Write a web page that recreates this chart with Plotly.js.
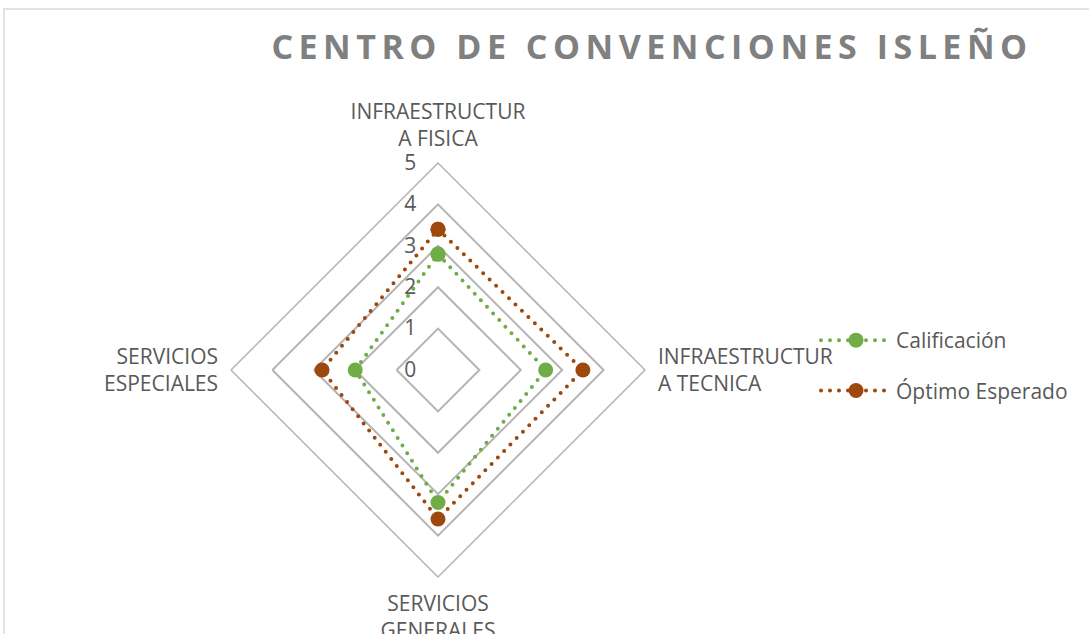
<!DOCTYPE html>
<html>
<head>
<meta charset="utf-8">
<script src="https://cdn.plot.ly/plotly-3.0.1.min.js"></script>
<style>
  html, body { margin: 0; padding: 0; background: #fff; }
  #chart { width: 1089px; height: 634px; }
  .gtitle { letter-spacing: 5.5px; }
  .js-line { stroke-linecap: round; }
</style>
</head>
<body>
<div id="chart"></div>
<script>
// Categorías (ejes del radar), en sentido horario desde arriba
const categorias = [
    'INFRAESTRUCTUR<br>A FISICA',
    'INFRAESTRUCTUR<br>A TECNICA',
    'SERVICIOS<br>GENERALES',
    'SERVICIOS<br>ESPECIALES'
];

// Valores
const calificacion = [2.8, 2.6, 3.2, 2.0];
const optimoEsperado = [3.4, 3.5, 3.6, 2.8];

const radialTicks = [0, 1, 2, 3, 4, 5];

const gris = '#595959';
const rejilla = '#b4b4b4';
const fuente = "'Open Sans', 'Liberation Sans', sans-serif";

// cerrar el polígono repitiendo el primer punto
function cerrar(arr) {
    return arr.concat([arr[0]]);
}

const trazaCalif = {
    type: 'scatterpolar',
    name: 'Calificación',
    legendgroup: 'a',
    r: cerrar(calificacion),
    theta: cerrar(categorias),
    mode: 'lines+markers',
    line: { color: '#70ad47', width: 4, dash: '0px,9px' },
    marker: { color: '#70ad47', size: 15 },
    hoverinfo: 'r+name'
};

const trazaOptimo = {
    type: 'scatterpolar',
    name: 'Óptimo Esperado',
    legendgroup: 'b',
    r: cerrar(optimoEsperado),
    theta: cerrar(categorias),
    mode: 'lines+markers',
    line: { color: '#9e480e', width: 4, dash: '0px,9px' },
    marker: { color: '#9e480e', size: 15 },
    hoverinfo: 'r+name'
};

// centro del radar ~ (438, 370) px, radio ~ 207 px
const W = 1089, H = 634;
const cx = 438, cy = 370, rad = 207;

const layout = {
    width: W,
    height: H,
    margin: { l: 0, r: 0, t: 0, b: 0, autoexpand: false },
    paper_bgcolor: '#ffffff',
    font: { family: fuente, color: gris, size: 21 },
    title: {
        text: '<b>CENTRO DE CONVENCIONES ISLEÑO</b>',
        font: { family: fuente, size: 34, color: '#808080' },
        x: 652 / W,
        xanchor: 'center',
        y: 1 - 47 / H,
        yanchor: 'middle'
    },
    showlegend: true,
    legend: {
        x: 816 / W,
        y: 1 - 320 / H,
        xanchor: 'left',
        yanchor: 'top',
        itemwidth: 70,
        traceorder: 'grouped',
        tracegroupgap: 20,
        font: { family: fuente, size: 21, color: gris },
        bgcolor: 'rgba(0,0,0,0)'
    },
    polar: {
        domain: {
            x: [(cx - rad) / W, (cx + rad) / W],
            y: [(H - cy - rad) / H, (H - cy + rad) / H]
        },
        gridshape: 'linear',
        bgcolor: '#ffffff',
        angularaxis: {
            type: 'category',
            categoryarray: categorias,
            rotation: 90,
            direction: 'clockwise',
            showgrid: false,
            showline: true,
            linecolor: rejilla,
            linewidth: 1.5,
            ticks: 'outside',
            ticklen: 8,
            tickcolor: 'rgba(0,0,0,0)',
            tickfont: { family: fuente, size: 21, color: gris }
        },
        radialaxis: {
            range: [0, 5],
            tickvals: radialTicks,
            angle: 90,
            side: 'counterclockwise',
            showline: false,
            gridcolor: rejilla,
            gridwidth: 1.5,
            ticks: 'outside',
            ticklen: 14,
            tickcolor: 'rgba(0,0,0,0)',
            tickangle: 90,
            tickfont: { family: fuente, size: 21, color: gris }
        }
    },
    shapes: [{
        type: 'rect',
        xref: 'paper', yref: 'paper',
        x0: 4 / W, x1: 1.02,
        y0: -0.02, y1: 1 - 9 / H,
        line: { color: '#d9d9d9', width: 1.5 },
        layer: 'below'
    }]
};

Plotly.newPlot('chart', [trazaCalif, trazaOptimo], layout, { displayModeBar: false, responsive: false });
</script>
</body>
</html>
